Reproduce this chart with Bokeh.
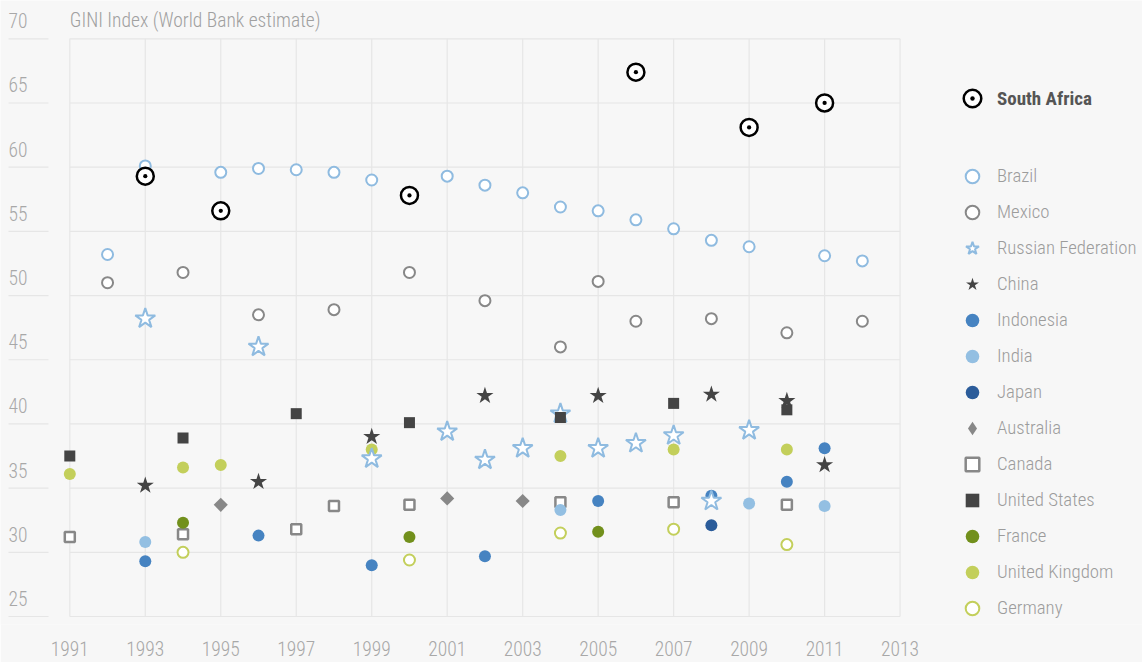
import math
from bokeh.plotting import figure
from bokeh.models import FixedTicker, Legend, LegendItem, Range1d
from bokeh.core.properties import value
from bokeh.embed import file_html
from bokeh.resources import INLINE

# ---------------- data ----------------
title_text = "GINI Index (World Bank estimate)"
x_ticks = list(range(1991, 2014, 2))
y_ticks = list(range(25, 71, 5))

south_africa_years = [1993, 1995, 2000, 2006, 2009, 2011]
south_africa_vals = [59.3, 56.6, 57.8, 67.4, 63.1, 65.0]

brazil_years = [1992, 1993, 1995, 1996, 1997, 1998, 1999, 2001, 2002, 2003, 2004, 2005, 2006, 2007, 2008, 2009, 2011, 2012]
brazil_vals = [53.2, 60.1, 59.6, 59.9, 59.8, 59.6, 59.0, 59.3, 58.6, 58.0, 56.9, 56.6, 55.9, 55.2, 54.3, 53.8, 53.1, 52.7]

mexico_years = [1992, 1994, 1996, 1998, 2000, 2002, 2004, 2005, 2006, 2008, 2010, 2012]
mexico_vals = [51.0, 51.8, 48.5, 48.9, 51.8, 49.6, 46.0, 51.1, 48.0, 48.2, 47.1, 48.0]

russia_years = [1993, 1996, 1999, 2001, 2002, 2003, 2004, 2005, 2006, 2007, 2008, 2009]
russia_vals = [48.2, 46.0, 37.3, 39.4, 37.2, 38.1, 40.8, 38.1, 38.5, 39.1, 34.0, 39.5]

china_years = [1993, 1996, 1999, 2002, 2005, 2008, 2010, 2011]
china_vals = [35.2, 35.5, 39.0, 42.2, 42.2, 42.3, 41.8, 36.8]

indonesia_years = [1993, 1996, 1999, 2002, 2005, 2008, 2010, 2011]
indonesia_vals = [29.3, 31.3, 29.0, 29.7, 34.0, 34.4, 35.5, 38.1]

india_years = [1993, 2004, 2009, 2011]
india_vals = [30.8, 33.3, 33.8, 33.6]

japan_years = [2008]
japan_vals = [32.1]

australia_years = [1995, 2001, 2003]
australia_vals = [33.7, 34.2, 34.0]

canada_years = [1991, 1994, 1997, 1998, 2000, 2004, 2007, 2010]
canada_vals = [31.2, 31.4, 31.8, 33.6, 33.7, 33.9, 33.9, 33.7]

us_years = [1991, 1994, 1997, 2000, 2004, 2007, 2010]
us_vals = [37.5, 38.9, 40.8, 40.1, 40.5, 41.6, 41.1]

france_years = [1994, 2000, 2005]
france_vals = [32.3, 31.2, 31.6]

uk_years = [1991, 1994, 1995, 1999, 2004, 2007, 2010]
uk_vals = [36.1, 36.6, 36.8, 38.0, 37.5, 38.0, 38.0]

germany_years = [1994, 2000, 2004, 2007, 2010]
germany_vals = [30.0, 29.4, 31.5, 31.8, 30.6]

# ---------------- layout ----------------
FONT = "Roboto Condensed Light, Roboto Condensed, Liberation Sans Narrow, Roboto"
FONT_BOLD = "Roboto Condensed, Liberation Sans Narrow, Roboto"
BG = "#f7f7f7"
GRID = "#e6e6e6"
W, H = 1142, 662
BOTTOM = 38
FRAME_H = H - BOTTOM
PX_PER_YEAR = 37.74
X_FIRST_PX = 69.3
x_start = x_ticks[0] - X_FIRST_PX / PX_PER_YEAR
x_end = x_start + W / PX_PER_YEAR
Y_TOP_PX, Y_BOT_PX = 38.3, 616.0
ppu = (Y_BOT_PX - Y_TOP_PX) / (y_ticks[-1] - y_ticks[0])
y_end = y_ticks[-1] + Y_TOP_PX / ppu
y_start = y_ticks[0] - (FRAME_H - Y_BOT_PX) / ppu

p = figure(width=W, height=H, x_range=Range1d(x_start, x_end), y_range=Range1d(y_start, y_end),
           output_backend="svg", toolbar_location=None, y_axis_location=None,
           min_border_left=0, min_border_right=0, min_border_top=0, min_border_bottom=BOTTOM,
           background_fill_color=BG, border_fill_color=BG, outline_line_color=None)
p.grid.visible = False

xa = p.xaxis[0]
xa.ticker = FixedTicker(ticks=x_ticks)
xa.axis_line_color = None
xa.major_tick_line_color = None
xa.minor_tick_line_color = None
xa.major_label_standoff = 10
xa.major_label_text_font = FONT
xa.major_label_text_font_size = "19.5px"
xa.major_label_text_color = "#a8a8a8"

# grid lines
p.segment(x0=x_ticks, y0=y_ticks[0], x1=x_ticks, y1=y_ticks[-1], line_color=GRID, line_width=1.2)
p.segment(x0=x_ticks[0], y0=y_ticks, x1=x_ticks[-1], y1=y_ticks, line_color=GRID, line_width=1.2)
stub_start = x_start + 8 / PX_PER_YEAR
stub_end = x_start + 48 / PX_PER_YEAR
p.segment(x0=stub_start, y0=y_ticks, x1=stub_end, y1=y_ticks, line_color=GRID, line_width=1.2)

# y tick labels and title
p.text(x=stub_start, y=y_ticks, text=[str(t) for t in y_ticks], text_align="left", text_baseline="alphabetic",
       y_offset=-18, text_font=value(FONT), text_font_size="19.5px", text_color="#a8a8a8")
p.text(x=[x_ticks[0]], y=[y_ticks[-1]], text=[title_text], text_align="left", text_baseline="alphabetic",
       y_offset=-18, text_font=value(FONT), text_font_size="19.5px", text_color="#a0a0a0")

# ---------------- markers ----------------
LB = "#8fbbe0"
r_brazil = p.scatter(brazil_years, brazil_vals, marker="circle", size=11, line_color=LB, line_width=2, fill_color="white")
r_mexico = p.scatter(mexico_years, mexico_vals, marker="circle", size=11, line_color="#888888", line_width=2, fill_color="white")
r_indonesia = p.scatter(indonesia_years, indonesia_vals, marker="circle", size=12, line_color=None, fill_color="#4683c1")
r_japan = p.scatter(japan_years, japan_vals, marker="circle", size=12, line_color=None, fill_color="#2b5c9a")
r_australia = p.scatter(australia_years, australia_vals, marker="square", angle=math.pi / 4, size=10,
                        line_color=None, fill_color="#888888")
r_aus_leg = p.scatter(australia_years, australia_vals, marker="diamond", size=14,
                      line_color=None, fill_color="#888888", visible=False)
r_canada = p.scatter(canada_years, canada_vals, marker="square", size=10, line_color="#888888", line_width=2.5, fill_color="white")
r_india = p.scatter(india_years, india_vals, marker="circle", size=12, line_color=None, fill_color="#93bfe2")
r_france = p.scatter(france_years, france_vals, marker="circle", size=12, line_color=None, fill_color="#72901c")
r_uk = p.scatter(uk_years, uk_vals, marker="circle", size=12, line_color=None, fill_color="#c3cf5b")
r_germany = p.scatter(germany_years, germany_vals, marker="circle", size=11, line_color="#c3cf5b", line_width=2, fill_color="white")
r_russia = p.scatter(russia_years, russia_vals, marker="star", size=21, line_color=LB, line_width=2, fill_color="white")
r_china = p.scatter(china_years, china_vals, marker="star", size=18, line_color=None, fill_color="#444444")
r_us = p.scatter(us_years, us_vals, marker="square", size=11, line_color=None, fill_color="#444444")
r_sa = p.scatter(south_africa_years, south_africa_vals, marker="circle_dot", size=17, line_color="black",
                 line_width=2.5, fill_color="white")

# ---------------- legends ----------------
leg_sa = Legend(items=[LegendItem(label="South Africa", renderers=[r_sa])],
                location=(950, FRAME_H - 120), glyph_width=44, glyph_height=44, label_height=44,
                label_standoff=3, label_text_font=FONT_BOLD, label_text_font_style="bold",
                label_text_font_size="19px", label_text_color="#555555",
                border_line_color=None, background_fill_alpha=0, padding=0, margin=0)

items = [("Brazil", r_brazil), ("Mexico", r_mexico), ("Russian Federation", r_russia), ("China", r_china),
         ("Indonesia", r_indonesia), ("India", r_india), ("Japan", r_japan), ("Australia", r_aus_leg),
         ("Canada", r_canada), ("United States", r_us), ("France", r_france), ("United Kingdom", r_uk),
         ("Germany", r_germany)]
leg = Legend(items=[LegendItem(label=l, renderers=[r]) for l, r in items],
             location=(955, FRAME_H - 625), glyph_width=34, glyph_height=34, label_height=34, spacing=2,
             label_standoff=8, label_text_font=FONT, label_text_font_size="18.8px", label_text_color="#9c9c9c",
             border_line_color=None, background_fill_alpha=0, padding=0, margin=0,
             inactive_fill_alpha=0)
p.add_layout(leg_sa, "center")
p.add_layout(leg, "center")

open("out.html", "w").write(file_html(p, INLINE))
